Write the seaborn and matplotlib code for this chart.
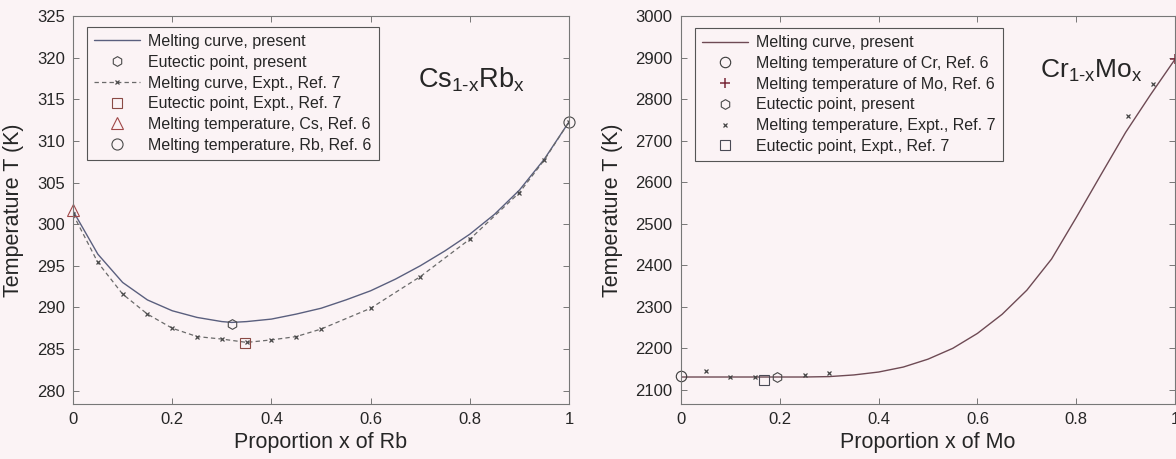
"""
Melting curves of Cs(1-x)Rb(x) and Cr(1-x)Mo(x) binary alloys
"""

# %% --------------------------------------------------------------------------
# Imports
# -----------------------------------------------------------------------------
import matplotlib
matplotlib.use("Agg")
import matplotlib.pyplot as plt
import seaborn as sns

# %% --------------------------------------------------------------------------
# Data
# -----------------------------------------------------------------------------
# Cs(1-x)Rb(x)
csrb_x = [0, 0.05, 0.1, 0.15, 0.2, 0.25, 0.3, 0.32, 0.35, 0.4, 0.45, 0.5,
          0.55, 0.6, 0.65, 0.7, 0.75, 0.8, 0.85, 0.9, 0.95, 1.0]
csrb_present = [301.6, 296.4, 293.0, 290.9, 289.6, 288.8, 288.3, 288.2, 288.3,
                288.6, 289.2, 289.9, 290.9, 292.0, 293.4, 295.0, 296.8, 298.8,
                301.2, 304.1, 307.8, 312.3]
csrb_expt_x = [0, 0.05, 0.1, 0.15, 0.2, 0.25, 0.3, 0.35, 0.4, 0.45, 0.5,
               0.6, 0.7, 0.8, 0.9, 0.95, 1.0]
csrb_expt = [301.2, 295.4, 291.6, 289.2, 287.5, 286.5, 286.2, 285.8, 286.1,
             286.5, 287.4, 289.9, 293.7, 298.2, 303.8, 307.7, 312.3]
csrb_eut_present = (0.32, 288.0)
csrb_eut_expt = (0.346, 285.7)
cs_melt = (0.0, 301.7)
rb_melt = (1.0, 312.3)

# Cr(1-x)Mo(x)
crmo_x = [0, 0.05, 0.1, 0.15, 0.2, 0.25, 0.3, 0.35, 0.4, 0.45, 0.5, 0.55,
          0.6, 0.65, 0.7, 0.75, 0.8, 0.85, 0.9, 0.95, 1.0]
crmo_present = [2131, 2131, 2131, 2131, 2131, 2131, 2132, 2136, 2143, 2155,
                2174, 2200, 2236, 2282, 2340, 2415, 2515, 2618, 2720, 2810, 2896]
crmo_expt_x = [0.05, 0.1, 0.15, 0.25, 0.3, 0.905, 0.955]
crmo_expt = [2146, 2131, 2131, 2136, 2141, 2760, 2836]
cr_melt = (0.0, 2133)
mo_melt = (1.0, 2896)
crmo_eut_present = (0.194, 2131)
crmo_eut_expt = (0.168, 2124)

x_ticks = [0, 0.2, 0.4, 0.6, 0.8, 1]
x_tick_labels = ["0", "0.2", "0.4", "0.6", "0.8", "1"]

# %% --------------------------------------------------------------------------
# Style
# -----------------------------------------------------------------------------
BG = "#fbf3f5"
INK = "#262626"

sns.set_theme(style="ticks")
plt.rcParams["font.family"] = ["Liberation Sans", "DejaVu Sans"]
plt.rcParams["mathtext.fontset"] = "custom"
plt.rcParams["mathtext.rm"] = "Liberation Sans"
plt.rcParams["text.color"] = INK
plt.rcParams["axes.labelcolor"] = INK


def point(ax, xy, marker, size, color, label, mew=0.8):
    sns.lineplot(x=[xy[0]], y=[xy[1]], ax=ax, linestyle="none", marker=marker,
                 markersize=size, markerfacecolor="none", markeredgecolor=color,
                 markeredgewidth=mew, color=color, label=label, clip_on=False)


def style_axes(ax, xlabel):
    ax.set_facecolor(BG)
    ax.set_xlim(0, 1)
    ax.set_xticks(x_ticks)
    ax.set_xticklabels(x_tick_labels)
    ax.tick_params(direction="in", length=4, width=0.7, top=True, right=True,
                   labelsize=12, colors="#777777", labelcolor=INK, pad=6)
    for s in ax.spines.values():
        s.set_color("#777777")
        s.set_linewidth(0.8)
    ax.set_xlabel(xlabel, fontsize=15.5, labelpad=3)
    ax.set_ylabel("Temperature T (K)", fontsize=15.5, labelpad=9)


def legend(ax, anchor):
    handles, labels = ax.get_legend_handles_labels()
    leg = ax.legend(handles, labels, loc="upper left", bbox_to_anchor=anchor,
                    borderaxespad=0, fontsize=11.5, handlelength=2.9,
                    handletextpad=0.5, labelspacing=0.36, borderpad=0.45,
                    fancybox=False, framealpha=1, facecolor=BG,
                    edgecolor="#555555")
    leg.get_frame().set_linewidth(0.8)


fig = plt.figure(figsize=(11.76, 4.59), dpi=100, facecolor=BG)
ax1 = fig.add_axes([0.0621, 0.1198, 0.4218, 0.8453])
ax2 = fig.add_axes([0.5791, 0.1198, 0.4201, 0.8453])

# %% --------------------------------------------------------------------------
# Cs(1-x)Rb(x)
# -----------------------------------------------------------------------------
sns.lineplot(x=csrb_x, y=csrb_present, ax=ax1, color="#5a5f7e", linewidth=1.0,
             label="Melting curve, present")
point(ax1, csrb_eut_present, "h", 7, "#4a4a4a", "Eutectic point, present")
sns.lineplot(x=csrb_expt_x, y=csrb_expt, ax=ax1, color="#6a6a6a", linewidth=0.9,
             dashes=(3.5, 2.5), marker="x", markersize=3.5, markeredgewidth=0.9,
             markeredgecolor="#4a4a4a", label="Melting curve, Expt., Ref. 7")
point(ax1, csrb_eut_expt, "s", 7, "#8a4a44", "Eutectic point, Expt., Ref. 7")
point(ax1, cs_melt, "^", 8, "#a04848", "Melting temperature, Cs, Ref. 6")
point(ax1, rb_melt, "o", 8, "#4a4a4a", "Melting temperature, Rb, Ref. 6")

ax1.set_ylim(278.4, 325)
ax1.set_yticks(range(280, 326, 5))
style_axes(ax1, "Proportion x of Rb")
legend(ax1, (0.028, 0.972))
ax1.text(0.696, 317.3, r"Cs$_{\mathregular{1\text{-}x}}$Rb$_{\mathregular{x}}$",
         fontsize=19.5, va="center", ha="left", color=INK)

# %% --------------------------------------------------------------------------
# Cr(1-x)Mo(x)
# -----------------------------------------------------------------------------
sns.lineplot(x=crmo_x, y=crmo_present, ax=ax2, color="#6e4a54", linewidth=1.0,
             label="Melting curve, present")
point(ax2, cr_melt, "o", 7.5, "#3a3a3a", "Melting temperature of Cr, Ref. 6")
point(ax2, mo_melt, "+", 7, "#7a2a3a", "Melting temperature of Mo, Ref. 6",
      mew=1.1)
point(ax2, crmo_eut_present, "h", 7, "#4a4a4a", "Eutectic point, present")
sns.lineplot(x=crmo_expt_x, y=crmo_expt, ax=ax2, linestyle="none", marker="x",
             markersize=3.5, markeredgewidth=0.9, markeredgecolor="#444444",
             color="#444444", label="Melting temperature, Expt., Ref. 7")
point(ax2, crmo_eut_expt, "s", 7.5, "#4a4a55", "Eutectic point, Expt., Ref. 7")

ax2.set_ylim(2066, 3000)
ax2.set_yticks(range(2100, 3001, 100))
style_axes(ax2, "Proportion x of Mo")
legend(ax2, (0.028, 0.969))
ax2.text(0.727, 2868, r"Cr$_{\mathregular{1\text{-}x}}$Mo$_{\mathregular{x}}$",
         fontsize=19, va="center", ha="left", color=INK)

fig.savefig("out.png", dpi=100, facecolor=BG)
